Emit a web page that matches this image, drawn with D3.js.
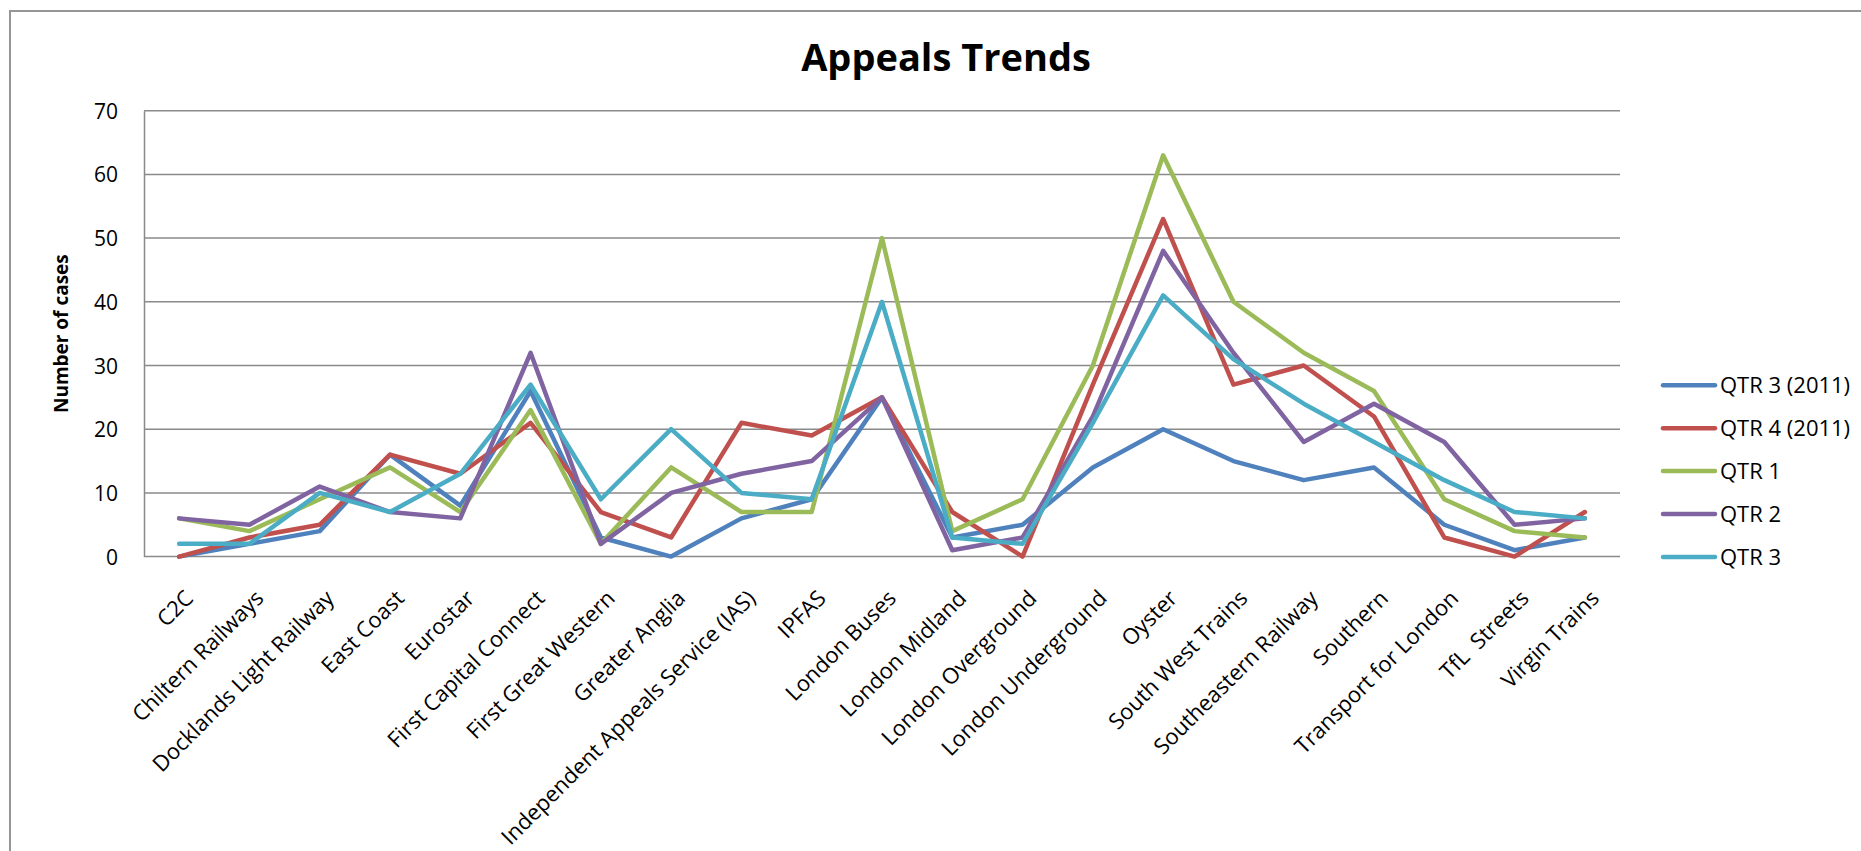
<!DOCTYPE html>
<html>
<head>
<meta charset="utf-8">
<script src="https://cdn.jsdelivr.net/npm/d3@7"></script>
<style>
  html, body { margin: 0; padding: 0; background: #fff; }
  svg { display: block; }
</style>
</head>
<body>
<script>
const categories = [
  "C2C", "Chiltern Railways", "Docklands Light Railway", "East Coast", "Eurostar",
  "First Capital Connect", "First Great Western", "Greater Anglia",
  "Independent Appeals Service (IAS)", "IPFAS", "London Buses", "London Midland",
  "London Overground", "London Underground", "Oyster", "South West Trains",
  "Southeastern Railway", "Southern", "Transport for London", "TfL  Streets", "Virgin Trains"
];
const seriesNames = ["QTR 3 (2011)", "QTR 4 (2011)", "QTR 1", "QTR 2", "QTR 3"];
const qtr3_2011 = [0, 2, 4, 16, 8, 26, 3, 0, 6, 9, 25, 3, 5, 14, 20, 15, 12, 14, 5, 1, 3];
const qtr4_2011 = [0, 3, 5, 16, 13, 21, 7, 3, 21, 19, 25, 7, 0, 27, 53, 27, 30, 22, 3, 0, 7];
const qtr1 = [6, 4, 9, 14, 7, 23, 2, 14, 7, 7, 50, 4, 9, 30, 63, 40, 32, 26, 9, 4, 3];
const qtr2 = [6, 5, 11, 7, 6, 32, 2, 10, 13, 15, 25, 1, 3, 22, 48, 32, 18, 24, 18, 5, 6];
const qtr3 = [2, 2, 10, 7, 13, 27, 9, 20, 10, 9, 40, 3, 2, 21, 41, 31, 24, 18, 12, 7, 6];
const seriesValues = [qtr3_2011, qtr4_2011, qtr1, qtr2, qtr3];
const colors = ["#4F81BD", "#C0504D", "#9BBB59", "#8064A2", "#4BACC6"];
const yTicks = [0, 10, 20, 30, 40, 50, 60, 70];
const title = "Appeals Trends";
const yTitle = "Number of cases";

const W = 1861, H = 851;
const plot = { left: 144, right: 1620, top: 110.7, bottom: 556.6 };
const FONT = "'Open Sans', 'DejaVu Sans', sans-serif";

const svg = d3.select("body").append("svg").attr("width", W).attr("height", H);

// outer chart border
svg.append("rect")
  .attr("x", 10).attr("y", 11).attr("width", W + 20).attr("height", H + 20)
  .attr("fill", "#fff").attr("stroke", "#969696").attr("stroke-width", 2);

const x = d3.scalePoint().domain(categories).range([plot.left, plot.right]).padding(0.5);
const y = d3.scaleLinear().domain([0, 70]).range([plot.bottom, plot.top]);

// gridlines
svg.append("g").selectAll("line").data(yTicks).join("line")
  .attr("x1", plot.left).attr("x2", plot.right)
  .attr("y1", d => y(d)).attr("y2", d => y(d))
  .attr("stroke", "#8a8a8a").attr("stroke-width", 1.5);

// y axis
const yAxis = svg.append("g")
  .attr("transform", `translate(${plot.left},0)`)
  .call(d3.axisLeft(y).tickValues(yTicks).tickSize(0).tickPadding(26));
yAxis.select(".domain").attr("stroke", "#8a8a8a").attr("stroke-width", 1.5);
yAxis.selectAll("text")
  .attr("font-family", FONT).attr("font-size", 21).attr("fill", "#000")
  .attr("dy", "0.36em");

// x axis
const xAxis = svg.append("g")
  .attr("transform", `translate(0,${plot.bottom})`)
  .call(d3.axisBottom(x).tickSize(0).tickPadding(0));
xAxis.select(".domain").remove();
xAxis.selectAll("text")
  .attr("font-family", FONT).attr("font-size", 22).attr("fill", "#000")
  .attr("text-anchor", "end").attr("dy", 0).attr("y", 0)
  .attr("transform", "translate(15,43) rotate(-45)")
  .style("white-space", "pre");

// lines
const line = d3.line().x((d, i) => x(categories[i])).y(d => y(d));
svg.append("g").selectAll("path").data(seriesValues).join("path")
  .attr("d", d => line(d))
  .attr("fill", "none")
  .attr("stroke", (d, i) => colors[i])
  .attr("stroke-width", 4.5)
  .attr("stroke-linejoin", "round")
  .attr("stroke-linecap", "round");

// title
svg.append("text")
  .attr("x", 946).attr("y", 70.7)
  .attr("text-anchor", "middle")
  .attr("font-family", FONT).attr("font-weight", "bold").attr("font-size", 38)
  .text(title);

// y title
svg.append("text")
  .attr("transform", `translate(68,${(plot.top + plot.bottom) / 2}) rotate(-90)`)
  .attr("text-anchor", "middle")
  .attr("font-family", FONT).attr("font-weight", "bold").attr("font-size", 19)
  .text(yTitle);

// legend
const lg = svg.append("g").selectAll("g").data(seriesNames).join("g")
  .attr("transform", (d, i) => `translate(1663,${385.3 + i * 42.9})`);
lg.append("line")
  .attr("x1", 0).attr("x2", 52).attr("y1", 0).attr("y2", 0)
  .attr("stroke", (d, i) => colors[i]).attr("stroke-width", 4.5)
  .attr("stroke-linecap", "round");
lg.append("text")
  .attr("x", 57).attr("y", 0).attr("dy", "0.36em")
  .attr("font-family", FONT).attr("font-size", 22)
  .text(d => d);
</script>
</body>
</html>
